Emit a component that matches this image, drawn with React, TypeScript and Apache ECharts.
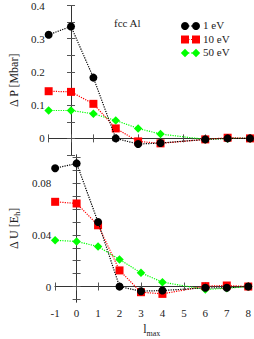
import React, { useEffect, useRef } from "react";
import * as echarts from "echarts";

const lmax = [-1, 0, 1, 2, 3, 4, 6, 7, 8];
const seriesNames = ["1 eV", "10 eV", "50 eV"];
const colors = ["#000000", "#ff0000", "#00ff00"];
const symbols = ["circle", "rect", "diamond"];

// Delta P [Mbar]
const dP_1eV = [0.312, 0.337, 0.183, 0.0, -0.017, -0.014, -0.003, 0.0, 0.0];
const dP_10eV = [0.142, 0.14, 0.104, 0.03, -0.009, -0.015, -0.003, 0.002, 0.0];
const dP_50eV = [0.084, 0.084, 0.074, 0.054, 0.03, 0.013, -0.003, 0.0, 0.0];

// Delta U [E_h]
const dU_1eV = [0.0917, 0.0955, 0.05, 0.0, -0.0036, -0.0031, -0.001, -0.001, 0.0];
const dU_10eV = [0.0657, 0.0644, 0.0475, 0.0125, -0.0044, -0.0057, 0.0003, 0.0008, 0.0];
const dU_50eV = [0.0358, 0.035, 0.031, 0.021, 0.0106, 0.0034, -0.0023, -0.0013, 0.0];

const xTicks = ["-1", "0", "1", "2", "3", "4", "5", "6", "7", "8"];
const dUTicks = [-0.01, 0, 0.01, 0.02, 0.03, 0.04, 0.05, 0.06, 0.07, 0.08, 0.09, 0.1];
const dULabels = [0, 0.04, 0.08];

const FONT = "Liberation Serif";

export default function App() {
  const ref = useRef<HTMLDivElement>(null);
  useEffect(() => {
    if (!ref.current) return;
    const chart = echarts.init(ref.current, null, { renderer: "svg" });
    const axisLine = { show: true, lineStyle: { color: "#333", width: 1 } };
    const tick = { show: true, inside: true, length: 4, lineStyle: { color: "#555", width: 1 } };
    const grids = [
      { left: 39, right: 4, top: 4.7, height: 150.3 },
      { left: 39, right: 4, top: 155, height: 147 },
    ];
    const xBase = {
      type: "value",
      min: -1,
      max: 8,
      interval: 1,
      axisLine,
      axisTick: tick,
      splitLine: { show: false },
    };
    const xAxis: any[] = [
      { ...xBase, gridIndex: 0, position: "bottom", axisLabel: { show: false } },
      { ...xBase, gridIndex: 0, position: "top", axisLabel: { show: false } },
      {
        ...xBase,
        gridIndex: 1,
        position: "bottom",
        axisLabel: {
          show: true,
          fontFamily: FONT,
          fontSize: 11,
          color: "#222",
          margin: 5,
          formatter: (v: number) => xTicks[Math.round(v) + 1] ?? "",
        },
        name: "l{sub|max}",
        nameLocation: "middle",
        nameGap: 19,
        nameTextStyle: {
          fontFamily: FONT,
          fontSize: 12,
          color: "#222",
          rich: { sub: { fontFamily: FONT, fontSize: 8, color: "#222", verticalAlign: "bottom", padding: [8, 0, 0, 0] } },
        },
      },
      { ...xBase, gridIndex: 1, position: "top", axisLabel: { show: false } },
    ];
    const topFmt = (v: number) => {
      const t = v * 10;
      if (Math.abs(t - Math.round(t)) > 1e-6) return "";
      return String(Math.round(t) / 10);
    };
    const botFmt = (v: number) => String(Math.round(v * 100) / 100);
    const yLabel = (f: any) => ({ show: true, fontFamily: FONT, fontSize: 11, color: "#222", margin: 4, formatter: f });
    const botTick = { ...tick, customValues: dUTicks };
    const yAxis: any[] = [
      {
        type: "value", gridIndex: 0, position: "left", min: -0.05, max: 0.4, interval: 0.05,
        axisLine, axisTick: tick, splitLine: { show: false }, axisLabel: yLabel(topFmt),
        name: "Δ P [Mbar]", nameLocation: "middle", nameGap: 28,
        nameTextStyle: { fontFamily: FONT, fontSize: 12, color: "#222" },
      },
      {
        type: "value", gridIndex: 0, position: "right", min: -0.05, max: 0.4, interval: 0.05,
        axisLine, axisTick: tick, splitLine: { show: false }, axisLabel: { show: false },
      },
      {
        type: "value", gridIndex: 1, position: "left", min: -0.012, max: 0.102,
        axisLine, axisTick: botTick, splitLine: { show: false },
        axisLabel: { ...yLabel(botFmt), customValues: dULabels },
        name: "Δ U [E{sub|h}]", nameLocation: "middle", nameGap: 28,
        nameTextStyle: {
          fontFamily: FONT, fontSize: 12, color: "#222",
          rich: { sub: { fontFamily: FONT, fontSize: 8, color: "#222", verticalAlign: "bottom", padding: [6, 0, 0, 0] } },
        },
      },
      {
        type: "value", gridIndex: 1, position: "right", min: -0.012, max: 0.102,
        axisLine, axisTick: botTick, splitLine: { show: false }, axisLabel: { show: false },
      },
    ];
    const top = [dP_1eV, dP_10eV, dP_50eV];
    const bot = [dU_1eV, dU_10eV, dU_50eV];
    const series: any[] = [];
    const mk = (arr: number[], i: number, xi: number, yi: number) => ({
      type: "line",
      name: seriesNames[i],
      xAxisIndex: xi,
      yAxisIndex: yi,
      data: lmax.map((x, k) => [x, arr[k]]),
      symbol: symbols[i],
      symbolSize: i === 2 ? 8.5 : 8,
      showAllSymbol: true,
      lineStyle: { color: colors[i], width: 1.2, type: "dotted" },
      itemStyle: { color: colors[i] },
      z: 10 - i,
    });
    top.forEach((a, i) => series.push(mk(a, i, 0, 0)));
    bot.forEach((a, i) => series.push(mk(a, i, 2, 2)));

    const legendRows = [26, 39.5, 53];
    const graphic: any[] = [
      {
        type: "text", left: 114, top: 17,
        style: { text: "fcc Al", fontFamily: FONT, fontSize: 11, fill: "#222" },
      },
    ];
    legendRows.forEach((y, i) => {
      graphic.push({
        type: "line",
        shape: { x1: 185, y1: y, x2: 196, y2: y },
        style: { stroke: colors[i], lineWidth: 1.2, lineDash: [1.5, 1.5] },
      });
      [185, 196].forEach((x) => {
        if (i === 0) graphic.push({ type: "circle", shape: { cx: x, cy: y, r: 4 }, style: { fill: colors[i] } });
        else if (i === 1) graphic.push({ type: "rect", shape: { x: x - 4, y: y - 4, width: 8, height: 8 }, style: { fill: colors[i] } });
        else graphic.push({ type: "polygon", shape: { points: [[x, y - 4.2], [x + 4.2, y], [x, y + 4.2], [x - 4.2, y]] }, style: { fill: colors[i] } });
      });
      graphic.push({
        type: "text", left: 203, top: y - 6.5,
        style: { text: seriesNames[i], fontFamily: FONT, fontSize: 11, fill: "#222" },
      });
    });

    chart.setOption({
      animation: false,
      backgroundColor: "#ffffff",
      grid: grids,
      xAxis,
      yAxis,
      series,
      graphic,
    });
    return () => chart.dispose();
  }, []);
  return <div ref={ref} style={{ position: "absolute", left: 0, top: 0, width: 254, height: 339 }} />;
}
